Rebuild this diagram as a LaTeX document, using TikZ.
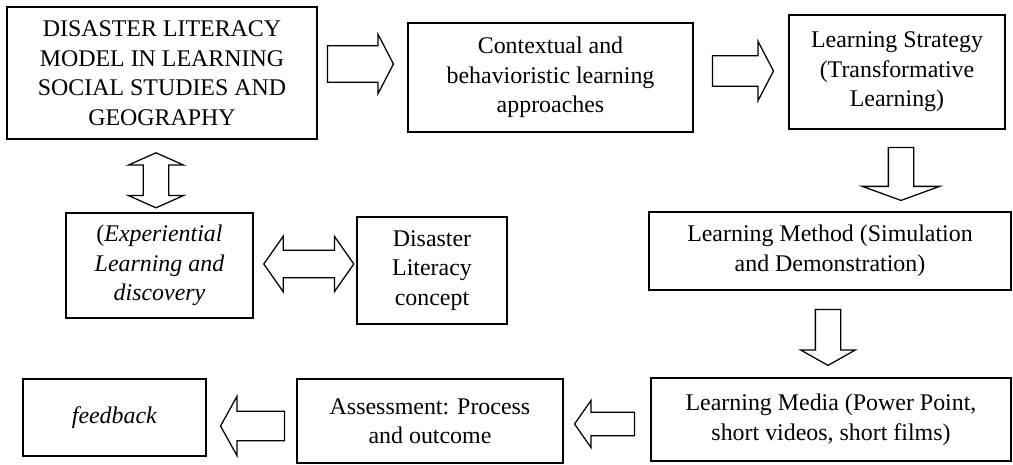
\documentclass[tikz,border=0pt]{standalone}
\usepackage{fontspec}
\setmainfont{Liberation Serif}
\usepackage{tikz}
\usetikzlibrary{shapes.arrows,calc}
\tikzstyle{box} = [rectangle, draw=black, line width=1.1pt, inner sep=0pt, align=center, font=\fontsize{17pt}{21pt}\selectfont]
\tikzstyle{fat} = [single arrow, draw=black, line width=0.9pt]
\tikzstyle{fatboth} = [double arrow, draw=black, line width=0.9pt]

\begin{document}
\begin{tikzpicture}[x=0.025cm, y=-0.025cm]
\useasboundingbox (0,0) rectangle (1013,465);

\node (model) [box, minimum width=7.75cm, minimum height=3.3cm] at (162,73)
  {DISASTER LITERACY\\MODEL IN LEARNING\\SOCIAL STUDIES AND\\GEOGRAPHY};
\node (approach) [box, minimum width=7.125cm, minimum height=2.725cm] at (550.5,77.5)
  {Contextual and\\behavioristic learning\\approaches};
\node (strategy) [box, minimum width=5.4cm, minimum height=2.85cm] at (897,72)
  {Learning Strategy\\(Transformative\\Learning)};
\node (exper) [box, minimum width=4.675cm, minimum height=2.625cm] at (159.5,265.5)
  {(\textit{Experiential}\\\textit{Learning and}\\\textit{discovery}};
\node (concept) [box, minimum width=3.75cm, minimum height=2.675cm] at (432,270.5)
  {Disaster\\Literacy\\concept};
\node (method) [box, minimum width=9.05cm, minimum height=1.95cm] at (830,251)
  {Learning Method (Simulation\\and Demonstration)};
\node (media) [box, minimum width=9cm, minimum height=2.075cm] at (831,419.5)
  {Learning Media (Power Point,\\short videos, short films)};
\node (assess) [box, minimum width=6.65cm, minimum height=2.1cm] at (430,421)
  {Assessment: Process\\and outcome};
\node (feedback) [box, minimum width=4.575cm, minimum height=1.925cm] at (114.5,417.5)
  {\textit{feedback}};

% block arrows
\node (a1) [fat, anchor=tail, minimum height=1.65cm, inner sep=0.4375cm,
  single arrow head extend=0.2875cm, single arrow tip angle=125] at ($(model.east)+(9,-9)$) {};
\node (a2) [fat, anchor=tail, minimum height=1.525cm, inner sep=0.3625cm,
  single arrow head extend=0.3625cm, single arrow tip angle=125] at ($(approach.east)+(18,-6.5)$) {};
\node (a3) [fat, anchor=tail, shape border rotate=270, minimum height=1.325cm, inner sep=0.3cm,
  single arrow head extend=0.65cm, single arrow tip angle=140] at ($(strategy.south)+(4,17)$) {};
\node (a4) [fat, anchor=tail, shape border rotate=270, minimum height=1.4cm, inner sep=0.3cm,
  single arrow head extend=0.3625cm, single arrow tip angle=121] at ($(method.south)+(-2,18)$) {};
\node (a5) [fat, anchor=tail, shape border rotate=180, minimum height=1.5cm, inner sep=0.275cm,
  single arrow head extend=0.3cm, single arrow tip angle=110] at ($(media.west)+(-15,4.5)$) {};
\node (a6) [fat, anchor=tail, shape border rotate=180, minimum height=1.6cm, inner sep=0.35cm,
  single arrow head extend=0.375cm, single arrow tip angle=122] at ($(assess.west)+(-11,5)$) {};
\node (a7) [fatboth, shape border rotate=90, minimum height=1.375cm, inner sep=0.3cm,
  double arrow head extend=0.375cm, double arrow tip angle=132] at ($(model.south)+(-6,40.5)$) {};
\node (a8) [fatboth, minimum height=2.25cm, inner sep=0.325cm,
  double arrow head extend=0.35cm, double arrow tip angle=110] at ($(exper.east)+(55,-1.5)$) {};
\end{tikzpicture}
\end{document}
